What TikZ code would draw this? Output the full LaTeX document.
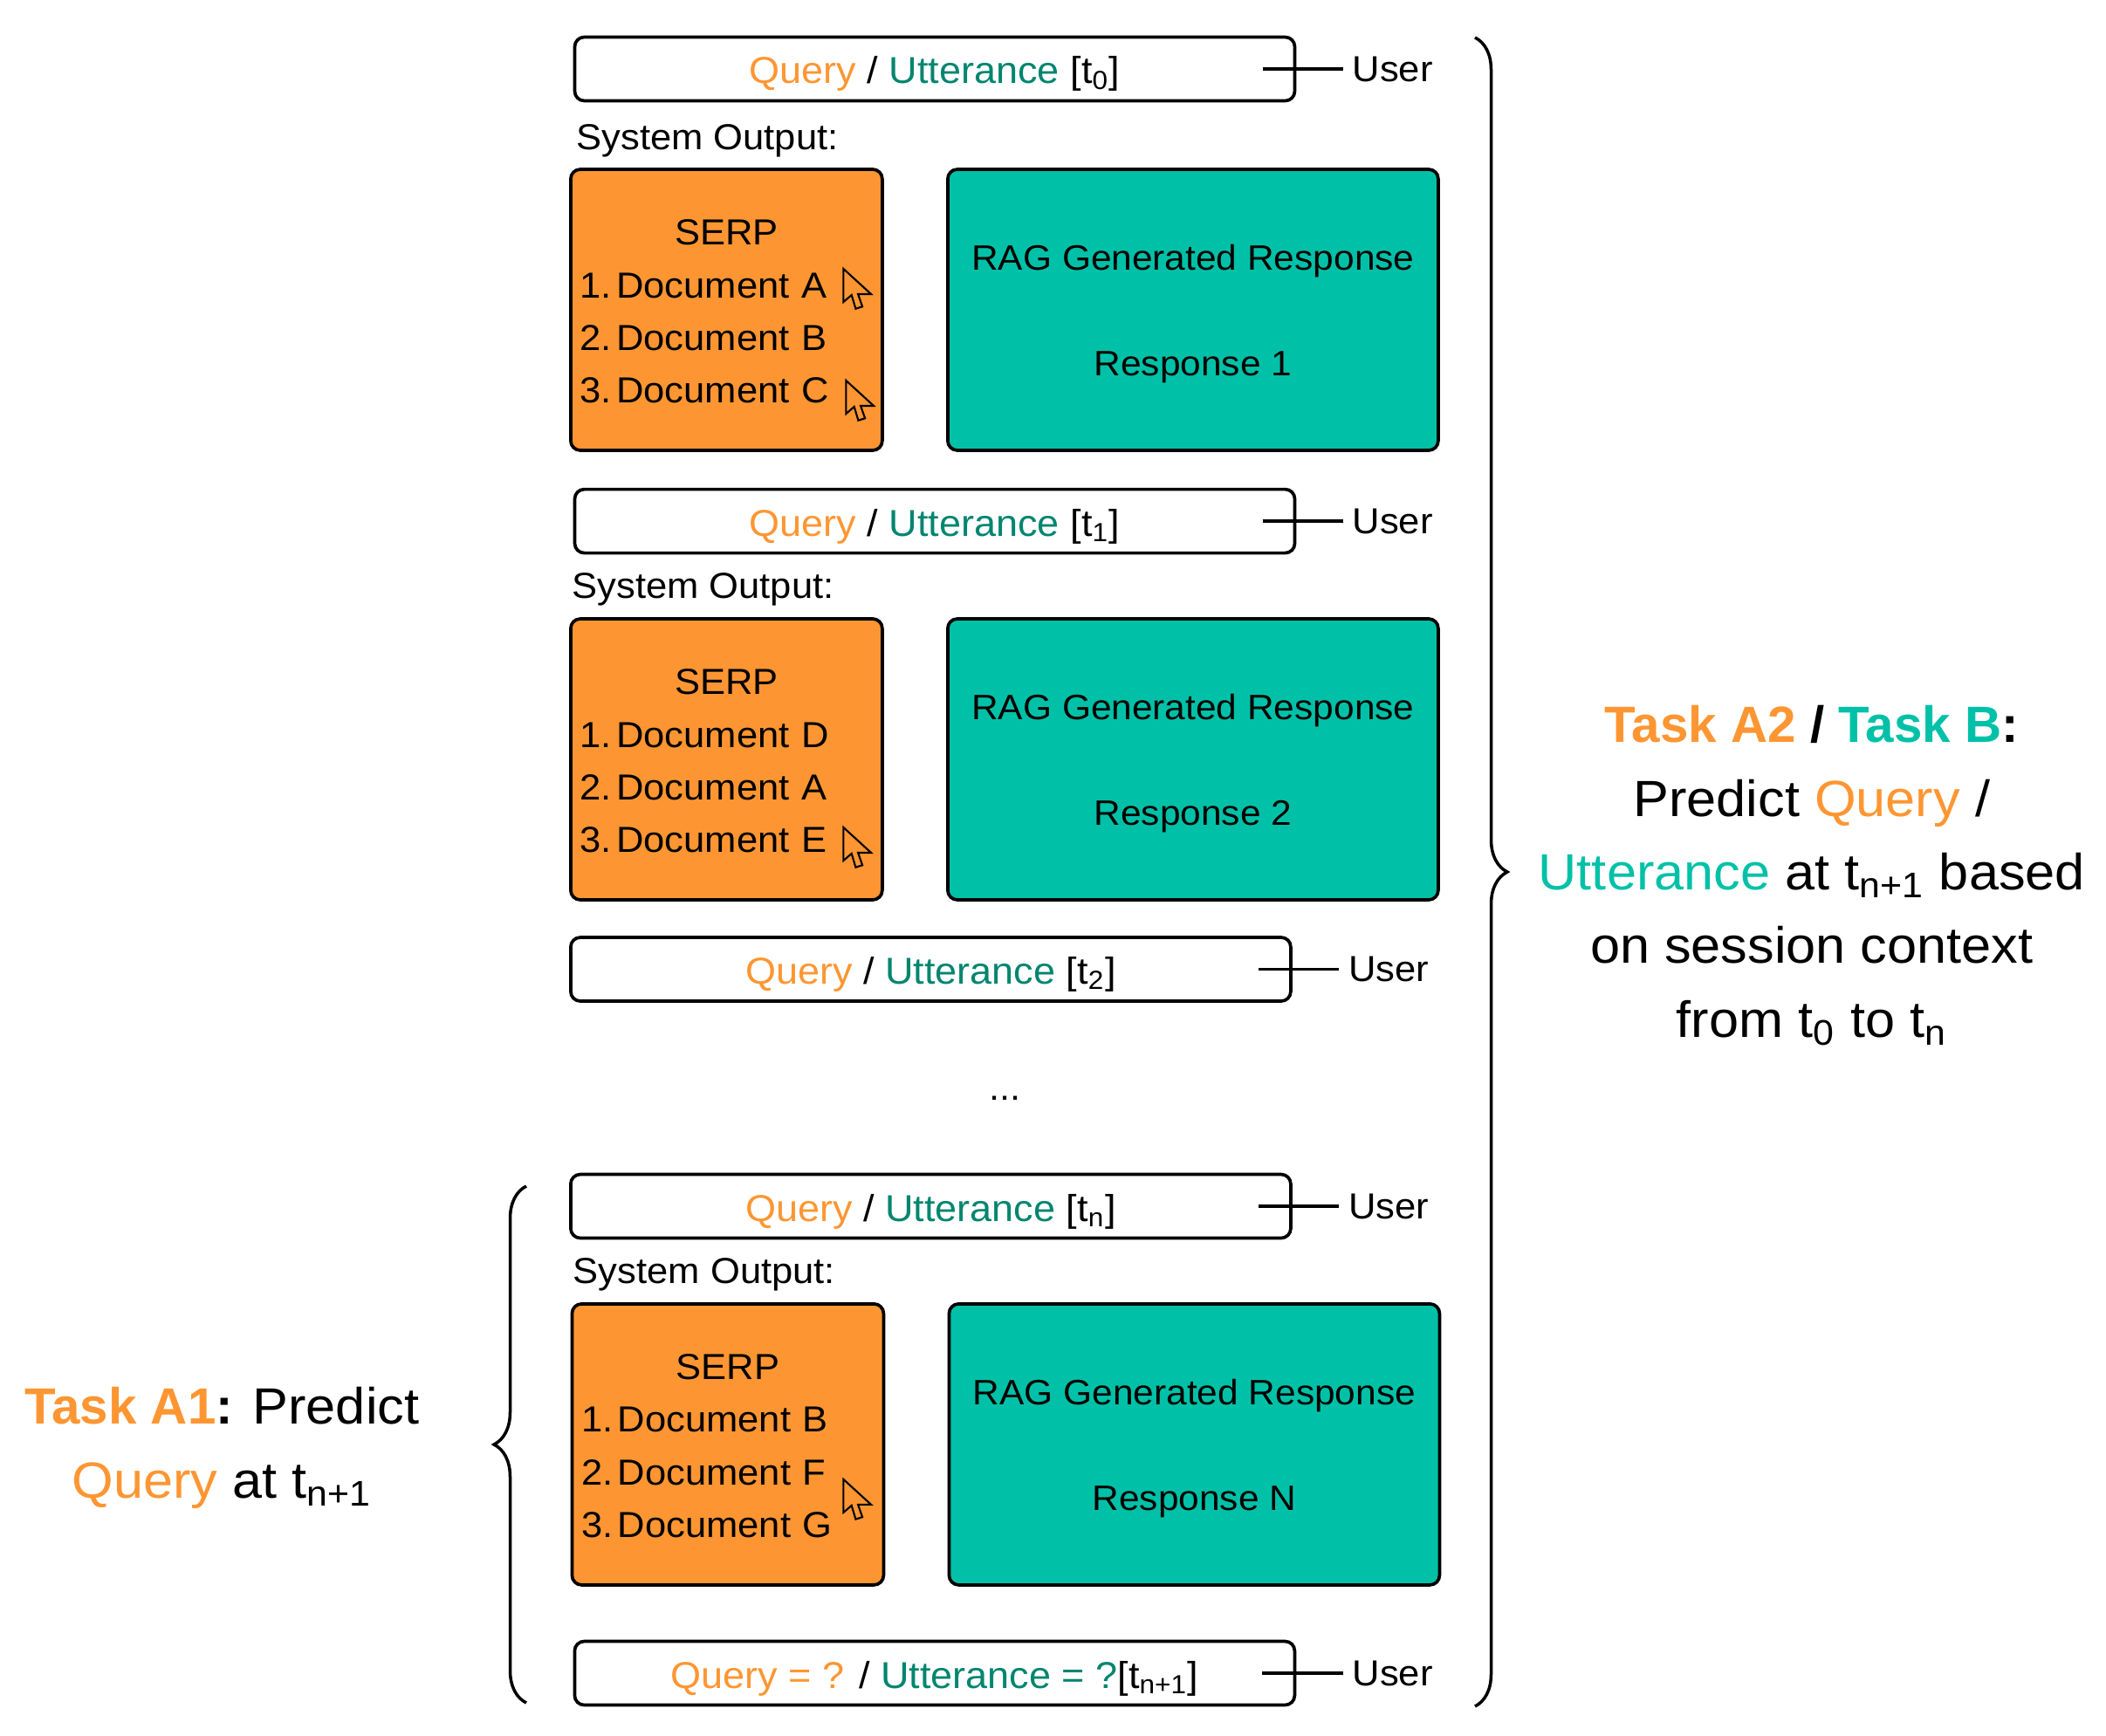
\documentclass[tikz,border=0pt]{standalone}
\usepackage{fontspec}
\setmainfont[FakeStretch=1.05, BoldFeatures={FakeStretch=1.0}]{Liberation Sans}
\usetikzlibrary{arrows.meta, positioning, calc, decorations.pathreplacing}
\definecolor{OrangeWarm}{HTML}{FD9632}
\definecolor{TealBright}{HTML}{00C1A8}
\definecolor{TealDark}{HTML}{00856F}
\newcommand{\topgap}[1]{\rule{0pt}{#1}}
\newcommand{\docitem}[2]{\makebox[0.415cm][l]{#1}Document #2}
\newcommand{\serplist}[3]{\topgap{0.33cm}\makebox[\linewidth]{SERP}\\\docitem{1.}{#1}\\\docitem{2.}{#2}\\\docitem{3.}{#3}}
\newcommand{\queryline}[1]{\textcolor{OrangeWarm}{Query} / \textcolor{TealDark}{Utterance} [t\textsubscript{#1}]}
\tikzset{
    querybox/.style={draw, font=\fontsize{12.2}{14}\selectfont, line width=1.05pt, rounded corners=0.11cm, minimum width=8.25cm, minimum height=0.73cm, outer sep=0pt, inner sep=0pt, text height=0.42cm, text depth=0.08cm},
    serpbox/.style={draw, fill=OrangeWarm, line width=1.05pt, rounded corners=0.11cm, text width=3.354cm, minimum height=3.22cm, inner xsep=0.108cm, inner ysep=0pt, outer sep=0pt, align=left},
    ragbox/.style={draw, fill=TealBright, font=\fontsize{11.5}{17.2}\selectfont, line width=1.05pt, rounded corners=0.11cm, minimum width=5.62cm, minimum height=3.22cm, inner sep=0pt, outer sep=0pt, align=center},
    usertag/.style={inner xsep=0.108cm, inner ysep=0pt, outer sep=0pt},
    outlabel/.style={inner sep=0pt, outer sep=0pt},
    tasklabel/.style={font=\fontsize{16.6}{24}\selectfont, align=center, inner sep=0pt},
    taskbrace/.style={line width=1pt, decorate, decoration={brace, amplitude=0.37cm}},
    pointer/.pic={\draw[line width=0.6pt, line join=miter] (0,0) -- (0,-0.38) -- (0.093,-0.3) -- (0.14,-0.457) -- (0.217,-0.433) -- (0.167,-0.29) -- (0.317,-0.29) -- cycle;}
}
\begin{document}
\begin{tikzpicture}[every node/.style={font=\fontsize{11.8}{17.2}\selectfont}]
    \useasboundingbox (0,0) rectangle (24.13,-19.89);
    \node[querybox] (q0) at (10.71,-0.79) {\queryline{0}};
    \node[serpbox, below right=0.785cm and -0.046cm of q0.south west] (serp0) {\serplist{A}{B}{C}};
    \node[ragbox, right=0.75cm of serp0] (rag0) {\topgap{0.39cm}RAG Generated Response\\~\\Response 1};
    \node[outlabel, below right=0.27cm and 0.02cm of q0.south west] (sys0) {System Output:};
    \node[usertag, right=0.554cm of q0.east] (user0) {User};
    \coordinate (tick0) at ([xshift=-0.37cm]q0.east);

    \node[querybox, below right=0.446cm and 0.046cm of serp0.south west] (q1) {\queryline{1}};
    \node[serpbox, below right=0.754cm and -0.046cm of q1.south west] (serp1) {\serplist{D}{A}{E}};
    \node[ragbox, right=0.75cm of serp1] (rag1) {\topgap{0.39cm}RAG Generated Response\\~\\Response 2};
    \node[outlabel, below right=0.23cm and -0.03cm of q1.south west] (sys1) {System Output:};
    \node[usertag, right=0.554cm of q1.east] (user1) {User};
    \coordinate (tick1) at ([xshift=-0.37cm]q1.east);

    \node[querybox, below right=0.43cm and 0cm of serp1.south west] (q2) {\queryline{2}};
    \node[usertag, right=0.554cm of q2.east] (user2) {User};
    \coordinate (tick2) at ([xshift=-0.37cm]q2.east);

    \node[querybox, below right=1.985cm and 0cm of q2.south west] (q3) {\queryline{n}};
    \node[serpbox, below right=0.754cm and 0.015cm of q3.south west] (serp3) {\serplist{B}{F}{G}};
    \node[ragbox, right=0.75cm of serp3] (rag3) {\topgap{0.39cm}RAG Generated Response\\~\\Response N};
    \node[outlabel, below right=0.23cm and 0.03cm of q3.south west] (sys3) {System Output:};
    \node[usertag, right=0.554cm of q3.east] (user3) {User};
    \coordinate (tick3) at ([xshift=-0.37cm]q3.east);

    \node[querybox, below right=0.646cm and 0.03cm of serp3.south west] (q4) {\textcolor{OrangeWarm}{Query = ?} / \textcolor{TealDark}{Utterance = ?}[t\textsubscript{n+1}]};
    \node[usertag, right=0.554cm of q4.east] (user4) {User};
    \coordinate (tick4) at ([xshift=-0.37cm]q4.east);

    \node[outlabel] (dots) at ($(q2.south)!0.5!(q3.north)+(0.85,-0.12)$) {...};

    % Connectors
    \draw[line width=1.05pt] (tick0) -- (user0.west);
    \draw[line width=1.05pt] (tick1) -- (user1.west);
    \draw[line width=1.05pt] (tick2) -- (user2.west);
    \draw[line width=1.05pt] (tick3) -- (user3.west);
    \draw[line width=1.05pt] (tick4) -- (user4.west);

    % Clicks
    \pic at ([xshift=-0.445cm, yshift=-1.14cm]serp0.north east) {pointer};
    \pic at ([xshift=-0.415cm, yshift=-2.42cm]serp0.north east) {pointer};
    \pic at ([xshift=-0.445cm, yshift=-2.39cm]serp1.north east) {pointer};
    \pic at ([xshift=-0.46cm, yshift=-2.01cm]serp3.north east) {pointer};

    % Task braces
    \coordinate (rtop) at (16.9,-0.43);
    \coordinate (rbot) at (16.9,-19.55);
    \coordinate (ltop) at (6.03,-13.59);
    \coordinate (lbot) at (6.03,-19.51);
    \draw[taskbrace] (rtop) -- (rbot);
    \draw[taskbrace] (lbot) -- (ltop);

    \node[tasklabel, yshift=-0.04cm, right=0.72cm of $(rtop)!0.5!(rbot)$] (taskb) {\textbf{\textcolor{OrangeWarm}{Task A2} / \textcolor{TealBright}{Task B}:}\\Predict \textcolor{OrangeWarm}{Query} /\\\textcolor{TealBright}{Utterance} at t\textsubscript{n+1} based\\on session context\\from t\textsubscript{0} to t\textsubscript{n}};
    \node[tasklabel, yshift=-0.04cm, left=1.22cm of $(ltop)!0.5!(lbot)$] (taska) {\textbf{\textcolor{OrangeWarm}{Task A1}:} Predict\\\textcolor{OrangeWarm}{Query} at t\textsubscript{n+1}};
\end{tikzpicture}
\end{document}
